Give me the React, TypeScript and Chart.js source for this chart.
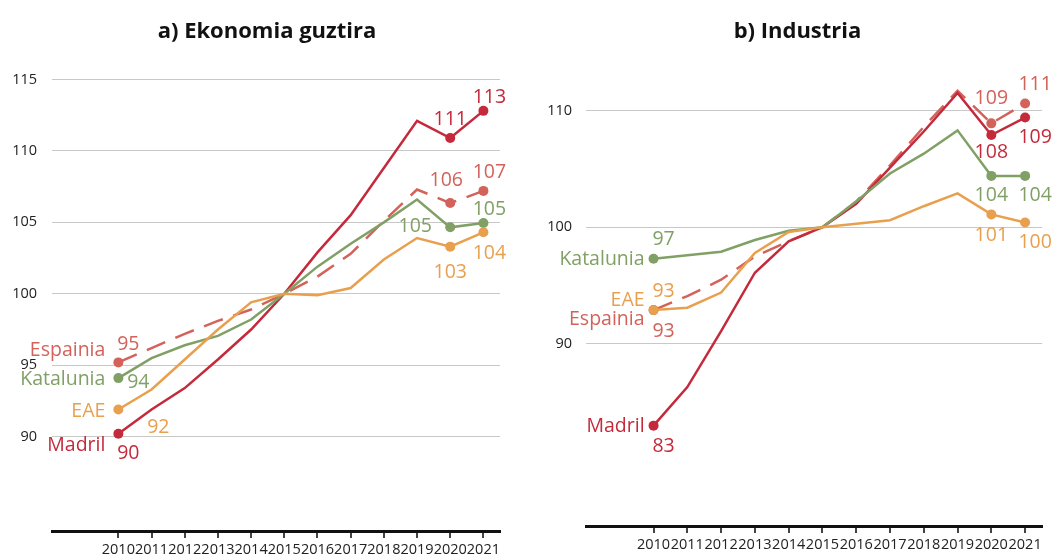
import { useEffect, useRef } from 'react';
import { Chart, registerables } from 'chart.js';
Chart.register(...registerables);

const years = [2010, 2011, 2012, 2013, 2014, 2015, 2016, 2017, 2018, 2019, 2020, 2021];
const seriesNames = ['EAE', 'Katalunia', 'Madril', 'Espainia'];
const seriesColors = ['#e8a04e', '#80a065', '#c42a3b', '#d3625a'];

// a) Ekonomia guztira
const aEAE = [91.9, 93.3, 95.4, 97.5, 99.4, 100, 99.9, 100.4, 102.4, 103.9, 103.3, 104.3];
const aKatalunia = [94.1, 95.5, 96.4, 97.05, 98.2, 100, 101.9, 103.5, 105.0, 106.6, 104.65, 104.95];
const aMadril = [90.2, 91.9, 93.4, 95.4, 97.5, 100, 102.9, 105.5, 108.8, 112.1, 110.9, 112.8];
const aEspainia = [95.2, 96.2, 97.2, 98.1, 98.9, 100, 101.2, 102.8, 105.1, 107.3, 106.35, 107.2];
const aYTicks = [90, 95, 100, 105, 110, 115];

// b) Industria
const bEAE = [92.9, 93.1, 94.4, 97.8, 99.6, 100, 100.3, 100.6, 101.8, 102.9, 101.1, 100.4];
const bKatalunia = [97.3, 97.6, 97.9, 98.9, 99.7, 100, 102.2, 104.6, 106.3, 108.3, 104.4, 104.4];
const bMadril = [83.0, 86.3, 91.1, 96.1, 98.8, 100, 102.0, 105.1, 108.2, 111.5, 107.9, 109.4];
const bEspainia = [92.9, 94.1, 95.5, 97.5, 98.8, 100, 102.2, 105.3, 108.6, 111.7, 108.9, 110.6];
const bYTicks = [90, 100, 110];

const titleA = 'a) Ekonomia guztira';
const titleB = 'b) Industria';

type Lbl = { s: number; i: number; dx: number; dy: number; align: CanvasTextAlign; name?: boolean };

// label placement (series index refers to seriesNames)
const labelsA: Lbl[] = [
  { s: 3, i: 0, dx: -13, dy: -12, align: 'right', name: true },
  { s: 3, i: 0, dx: 10, dy: -18, align: 'center' },
  { s: 1, i: 0, dx: -13, dy: 1, align: 'right', name: true },
  { s: 1, i: 0, dx: 20, dy: 4, align: 'center' },
  { s: 0, i: 0, dx: -13, dy: 2, align: 'right', name: true },
  { s: 0, i: 0, dx: 40, dy: 18, align: 'center' },
  { s: 2, i: 0, dx: -13, dy: 12, align: 'right', name: true },
  { s: 2, i: 0, dx: 10, dy: 20, align: 'center' },
  { s: 2, i: 10, dx: 0, dy: -19, align: 'center' },
  { s: 2, i: 11, dx: 6, dy: -13, align: 'center' },
  { s: 3, i: 10, dx: -4, dy: -23, align: 'center' },
  { s: 3, i: 11, dx: 6, dy: -18, align: 'center' },
  { s: 1, i: 10, dx: -35, dy: -1, align: 'center' },
  { s: 1, i: 11, dx: 6, dy: -14, align: 'center' },
  { s: 0, i: 10, dx: 0, dy: 26, align: 'center' },
  { s: 0, i: 11, dx: 6, dy: 21, align: 'center' },
];

const labelsB: Lbl[] = [
  { s: 1, i: 0, dx: -9, dy: 1, align: 'right', name: true },
  { s: 1, i: 0, dx: 10, dy: -19, align: 'center' },
  { s: 0, i: 0, dx: -9, dy: -10, align: 'right', name: true },
  { s: 0, i: 0, dx: 10, dy: -19, align: 'center' },
  { s: 3, i: 0, dx: -9, dy: 9, align: 'right', name: true },
  { s: 3, i: 0, dx: 10, dy: 21, align: 'center' },
  { s: 2, i: 0, dx: -9, dy: 1, align: 'right', name: true },
  { s: 2, i: 0, dx: 10, dy: 21, align: 'center' },
  { s: 3, i: 10, dx: 0, dy: -25, align: 'center' },
  { s: 3, i: 11, dx: 10, dy: -19, align: 'center' },
  { s: 2, i: 10, dx: 0, dy: 17, align: 'center' },
  { s: 2, i: 11, dx: 10, dy: 20, align: 'center' },
  { s: 1, i: 10, dx: 0, dy: 20, align: 'center' },
  { s: 1, i: 11, dx: 10, dy: 20, align: 'center' },
  { s: 0, i: 10, dx: 0, dy: 21, align: 'center' },
  { s: 0, i: 11, dx: 10, dy: 20, align: 'center' },
];

type Panel = {
  title: string;
  titleX: number;
  width: number;
  left: number;
  series: number[][];
  yMin: number;
  yMax: number;
  yTicks: number[];
  yAxisWidth: number;
  yPad: number;
  padRight: number;
  padTop: number;
  xAxisHeight: number;
  labels: Lbl[];
};

const panels: Panel[] = [
  {
    title: titleA, titleX: 267, width: 534, left: 0,
    series: [aEAE, aKatalunia, aMadril, aEspainia],
    yMin: 83.4, yMax: 116.5, yTicks: aYTicks, yAxisWidth: 52, yPad: 15, padRight: 34, padTop: 58, xAxisHeight: 26,
    labels: labelsA,
  },
  {
    title: titleB, titleX: 255.5, width: 511, left: 542,
    series: [bEAE, bKatalunia, bMadril, bEspainia],
    yMin: 74.4, yMax: 114.5, yTicks: bYTicks, yAxisWidth: 44, yPad: 14, padRight: 11, padTop: 58, xAxisHeight: 31,
    labels: labelsB,
  },
];

const FONT = '"Open Sans", "Noto Sans", sans-serif';

function PanelChart({ p }: { p: Panel }) {
  const ref = useRef<HTMLCanvasElement | null>(null);
  useEffect(() => {
    if (!ref.current) return;
    const labelPlugin = {
      id: 'directLabels',
      afterDatasetsDraw(chart: any) {
        const ctx = chart.ctx;
        ctx.save();
        ctx.font = `19.5px ${FONT}`;
        ctx.textBaseline = 'middle';
        for (const l of p.labels) {
          const pt = chart.getDatasetMeta(l.s).data[l.i];
          const v = p.series[l.s][l.i];
          const txt = l.name ? seriesNames[l.s] : String(Math.round(v));
          ctx.fillStyle = seriesColors[l.s];
          ctx.textAlign = l.align;
          ctx.fillText(txt, pt.x + l.dx, pt.y + l.dy);
        }
        ctx.font = `bold 22px ${FONT}`;
        ctx.fillStyle = '#111';
        ctx.textAlign = 'center';
        ctx.textBaseline = 'alphabetic';
        ctx.fillText(p.title, p.titleX, 38);
        ctx.restore();
      },
    };
    const endPts = (n: number) => years.map((_, i) => (i === 0 || i >= n - 2 ? 5 : 0));
    const chart = new Chart(ref.current, {
      type: 'line',
      data: {
        datasets: p.series.map((vals, s) => ({
          label: seriesNames[s],
          data: vals.map((v, i) => ({ x: years[i], y: v })),
          borderColor: seriesColors[s],
          backgroundColor: seriesColors[s],
          pointBackgroundColor: seriesColors[s],
          pointBorderWidth: 0,
          pointRadius: endPts(vals.length),
          borderWidth: 2.5,
          borderDash: s === 3 ? [20, 11] : [],
          tension: 0,
          fill: false,
        })),
      },
      options: {
        animation: false,
        responsive: false,
        maintainAspectRatio: false,
        layout: { padding: { top: p.padTop, right: p.padRight, left: 0, bottom: 0 } },
        plugins: { legend: { display: false }, tooltip: { enabled: false }, title: { display: false } },
        scales: {
          x: {
            type: 'linear',
            min: 2008,
            max: 2021.5,
            afterBuildTicks: (s: any) => { s.ticks = years.map((v) => ({ value: v })); },
            afterFit: (s: any) => { s.height = p.xAxisHeight; s.paddingLeft = 0; s.paddingRight = 0; },
            ticks: {
              callback: (v: any) => String(v),
              font: { family: FONT, size: 14.5 },
              color: '#222',
              padding: 3,
              maxRotation: 0,
              autoSkip: false,
            },
            grid: { drawOnChartArea: false, drawTicks: true, tickLength: 7, color: '#444', lineWidth: 2 },
            border: { display: true, color: '#111', width: 3 },
          },
          y: {
            min: p.yMin,
            max: p.yMax,
            afterBuildTicks: (s: any) => { s.ticks = p.yTicks.map((v) => ({ value: v })); },
            afterFit: (s: any) => { s.width = p.yAxisWidth; s.paddingTop = 0; s.paddingBottom = 0; },
            ticks: { font: { family: FONT, size: 14.5 }, color: '#222', padding: p.yPad },
            grid: { color: '#c8c8c8', lineWidth: 1, drawTicks: false },
            border: { display: false },
          },
        },
      },
      plugins: [labelPlugin],
    } as any);
    return () => chart.destroy();
  }, [p]);
  return (
    <canvas
      ref={ref}
      width={p.width}
      height={557}
      style={{ position: 'absolute', left: p.left, top: 0, width: p.width, height: 557 }}
    />
  );
}

export default function App() {
  return (
    <div style={{ position: 'absolute', left: 0, top: 0, width: 1053, height: 557, background: '#fff' }}>
      {panels.map((p, k) => (
        <PanelChart key={k} p={p} />
      ))}
    </div>
  );
}
